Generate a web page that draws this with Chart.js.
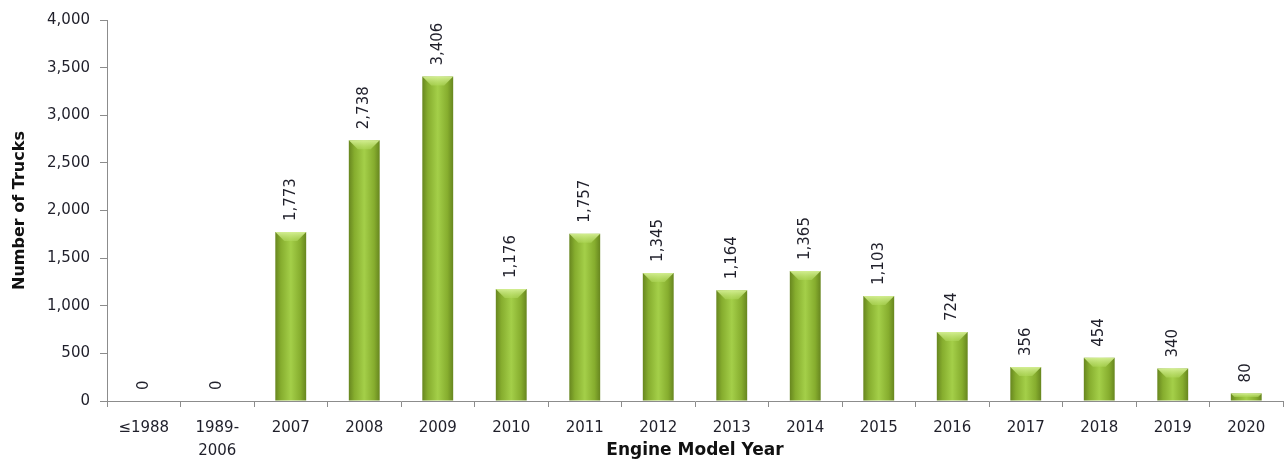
<!DOCTYPE html>
<html>
<head>
<meta charset="utf-8">
<script src="https://cdn.jsdelivr.net/npm/chart.js@4.4.1/dist/chart.umd.min.js"></script>
<style>
  html, body { margin: 0; padding: 0; background: #fff; }
  #truckChart { display: block; }
</style>
</head>
<body>
<canvas id="truckChart" width="1286" height="463"></canvas>
<script>
/* ============================
   DATOS
============================ */
const modelYears = ["≤1988", ["1989-", "2006"], "2007", "2008", "2009", "2010", "2011",
                    "2012", "2013", "2014", "2015", "2016", "2017", "2018", "2019", "2020"];
const truckCounts = [0, 0, 1773, 2738, 3406, 1176, 1757, 1345, 1164, 1365, 1103, 724, 356, 454, 340, 80];
const yTicks = [0, 500, 1000, 1500, 2000, 2500, 3000, 3500, 4000];

const BAR_PCT = 0.42;
const fmt = v => Number(v).toLocaleString("en-US");

/* ============================
   GRADIENTE DE BARRAS
============================ */
function barGradient(ctx) {
    const chart = ctx.chart;
    const xs = chart.scales.x;
    if (!xs || !xs.width) return "#8fb838";
    const cx = xs.getPixelForValue(ctx.dataIndex);
    const w = (xs.width / modelYears.length) * BAR_PCT;
    const g = chart.ctx.createLinearGradient(cx - w / 2, 0, cx + w / 2, 0);
    g.addColorStop(0, "#67861f");
    g.addColorStop(0.18, "#86ad2e");
    g.addColorStop(0.5, "#a4cf49");
    g.addColorStop(0.82, "#86ad2e");
    g.addColorStop(1, "#67861f");
    return g;
}

/* ============================
   PLUGINS: bisel + etiquetas
============================ */
const bevelPlugin = {
    id: "bevel",
    afterDatasetDraw(chart, args) {
        const { ctx } = chart;
        args.meta.data.forEach(bar => {
            const h = bar.base - bar.y;
            if (h <= 0) return;
            const w = bar.width;
            const b = Math.min(9, h / 2, w / 3);
            const l = bar.x - w / 2, r = bar.x + w / 2;
            ctx.save();
            const g = ctx.createLinearGradient(0, bar.y, 0, bar.y + b);
            g.addColorStop(0, "rgba(214,240,150,0.95)");
            g.addColorStop(1, "rgba(175,215,90,0.6)");
            ctx.fillStyle = g;
            ctx.beginPath();
            ctx.moveTo(l, bar.y);
            ctx.lineTo(r, bar.y);
            ctx.lineTo(r - b, bar.y + b);
            ctx.lineTo(l + b, bar.y + b);
            ctx.closePath();
            ctx.fill();
            ctx.restore();
        });
    }
};

const valueLabels = {
    id: "valueLabels",
    afterDatasetsDraw(chart) {
        const { ctx } = chart;
        const meta = chart.getDatasetMeta(0);
        ctx.save();
        ctx.font = "15px 'DejaVu Sans'";
        ctx.fillStyle = "#1f1f2a";
        ctx.textAlign = "left";
        ctx.textBaseline = "middle";
        meta.data.forEach((bar, i) => {
            ctx.save();
            ctx.translate(bar.x, bar.y - 11);
            ctx.rotate(-Math.PI / 2);
            ctx.fillText(fmt(truckCounts[i]), 0, 0);
            ctx.restore();
        });
        ctx.restore();
    }
};

/* ============================
   CHART
============================ */
new Chart(document.getElementById("truckChart"), {
    type: "bar",
    data: {
        labels: modelYears,
        datasets: [{
            label: "Number of Trucks",
            data: truckCounts,
            backgroundColor: barGradient,
            borderWidth: 0,
            barPercentage: BAR_PCT,
            categoryPercentage: 1
        }]
    },
    options: {
        responsive: false,
        devicePixelRatio: 1,
        animation: false,
        layout: { padding: { top: 20, right: 3, left: 0, bottom: 0 } },
        plugins: {
            legend: { display: false },
            tooltip: { enabled: false }
        },
        scales: {
            x: {
                offset: true,
                grid: {
                    offset: true,
                    drawOnChartArea: false,
                    drawTicks: true,
                    tickLength: 6,
                    color: "#8c8c8c"
                },
                border: { color: "#8c8c8c", width: 1 },
                ticks: {
                    color: "#1f1f2a",
                    font: { family: "'DejaVu Sans'", size: 15, lineHeight: 1.5 },
                    padding: 10,
                    maxRotation: 0,
                    autoSkip: false
                },
                title: {
                    display: true,
                    text: "Engine Model Year",
                    color: "#111",
                    font: { family: "'DejaVu Sans'", size: 17, weight: "bold", lineHeight: 1.2 },
                    padding: { top: 0, bottom: 2 }
                },
                afterFit(scale) { scale.height = 62; }
            },
            y: {
                min: 0,
                max: 4000,
                afterBuildTicks(scale) { scale.ticks = yTicks.map(v => ({ value: v })); },
                grid: {
                    drawOnChartArea: false,
                    drawTicks: true,
                    tickLength: 7,
                    color: "#8c8c8c"
                },
                border: { color: "#8c8c8c", width: 1 },
                ticks: {
                    color: "#1f1f2a",
                    font: { family: "'DejaVu Sans'", size: 15 },
                    padding: 10,
                    callback: v => fmt(v)
                },
                title: {
                    display: true,
                    text: "Number of Trucks",
                    color: "#111",
                    font: { family: "'DejaVu Sans'", size: 16, weight: "bold", lineHeight: 1.2 },
                    padding: { top: 10, bottom: 0 }
                },
                afterFit(scale) { scale.width = 107; }
            }
        }
    },
    plugins: [bevelPlugin, valueLabels]
});
</script>
</body>
</html>
